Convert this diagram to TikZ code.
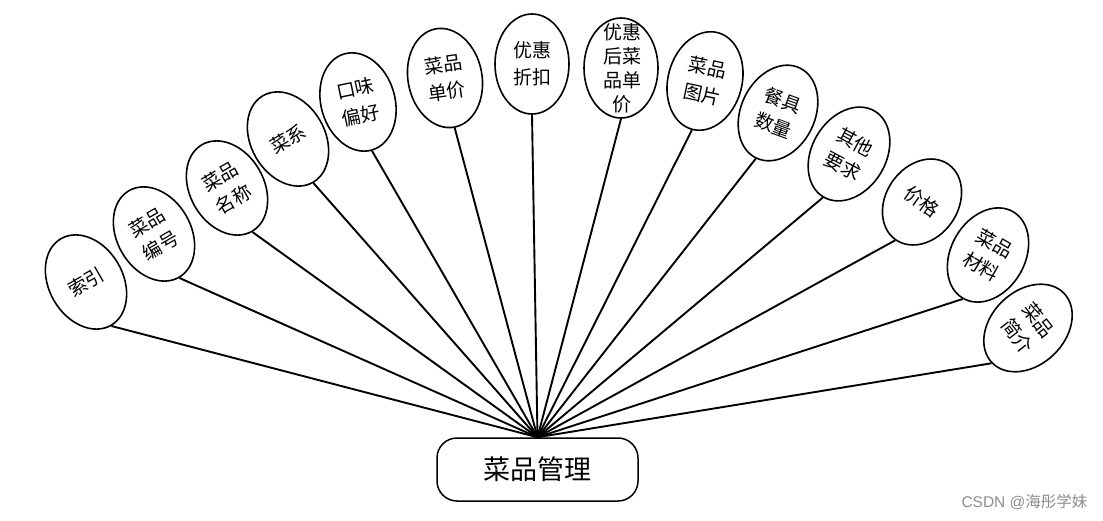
\documentclass[tikz,border=0pt]{standalone}
\usepackage{fontspec}
\newfontfamily\cjk{Noto Sans CJK SC}
\newfontfamily\wmfont{Liberation Sans}
\usetikzlibrary{shapes.geometric}
\tikzset{
  attr/.style={ellipse, draw=black, line width=1.6pt, fill=white, minimum width=74pt, minimum height=100pt, inner sep=0pt},
  lbl/.style={font=\cjk\fontsize{19}{27}\selectfont, align=center, inner sep=0pt},
  link/.style={line width=1.9pt, draw=black},
  hubbox/.style={draw=black, line width=1.5pt, rounded corners=20pt, minimum width=201pt, minimum height=63pt, font=\cjk\fontsize{27}{30}\selectfont, fill=white}
}
\begin{document}
\begin{tikzpicture}[x=1pt,y=-1pt]
\useasboundingbox (0,0) rectangle (1103,521);
\node[hubbox] (box) at (537.5,469.5) {菜品管理};
\coordinate (hub) at (box.north);
% ellipses
\node[attr, rotate=30] (e1) at (86,282) {};
\node[lbl, rotate=30] at (e1) {索引};
\node[attr, rotate=30] (e2) at (154,234) {};
\node[lbl, rotate=30] at (e2) {菜品\\编号};
\node[attr, rotate=30] (e3) at (227,188) {};
\node[lbl, rotate=30] at (e3) {菜品\\名称};
\node[attr, rotate=30] (e4) at (288,139) {};
\node[lbl, rotate=30] at (e4) {菜系};
\node[attr, rotate=16] (e5) at (358,102) {};
\node[lbl, rotate=12] at (e5) {口味\\偏好};
\node[attr, rotate=11] (e6) at (445,78) {};
\node[lbl, rotate=8] at (e6) {菜品\\单价};
\node[attr] (e7) at (532,64) {};
\node[lbl] at (e7) {优惠\\折扣};
\node[attr] (e8) at (621,68) {};
\node[lbl, font=\cjk\fontsize{19}{24}\selectfont] at (622,68) {优惠\\后菜\\品单\\价};
\node[attr, rotate=-15] (e9) at (705,81) {};
\node[lbl, rotate=-12] at (e9) {菜品\\图片};
\node[attr, rotate=-26] (e10) at (778,113) {};
\node[lbl, rotate=-20] at (e10) {餐具\\数量};
\node[attr, rotate=-31] (e11) at (849,154) {};
\node[lbl, rotate=-28] at (e11) {其他\\要求};
\node[attr, rotate=-35, minimum width=72pt, minimum height=92pt] (e12) at (922,202) {};
\node[lbl, rotate=-35] at (e12) {价格};
\node[attr, rotate=-30] (e13) at (988,255) {};
\node[lbl, rotate=-30] at (e13) {菜品\\材料};
\node[attr, rotate=-46] (e14) at (1028,328) {};
\node[lbl, rotate=-52] at (e14) {菜品\\简介};
% links
\foreach \i in {1,...,14} {\draw[link] (hub) -- (e\i.south);}
\node[font=\wmfont\fontsize{15.5}{17}\selectfont, text=black!45, anchor=east] (wm) at (1091,502) {CSDN @{\cjk 海彤学妹}};
\end{tikzpicture}
\end{document}
